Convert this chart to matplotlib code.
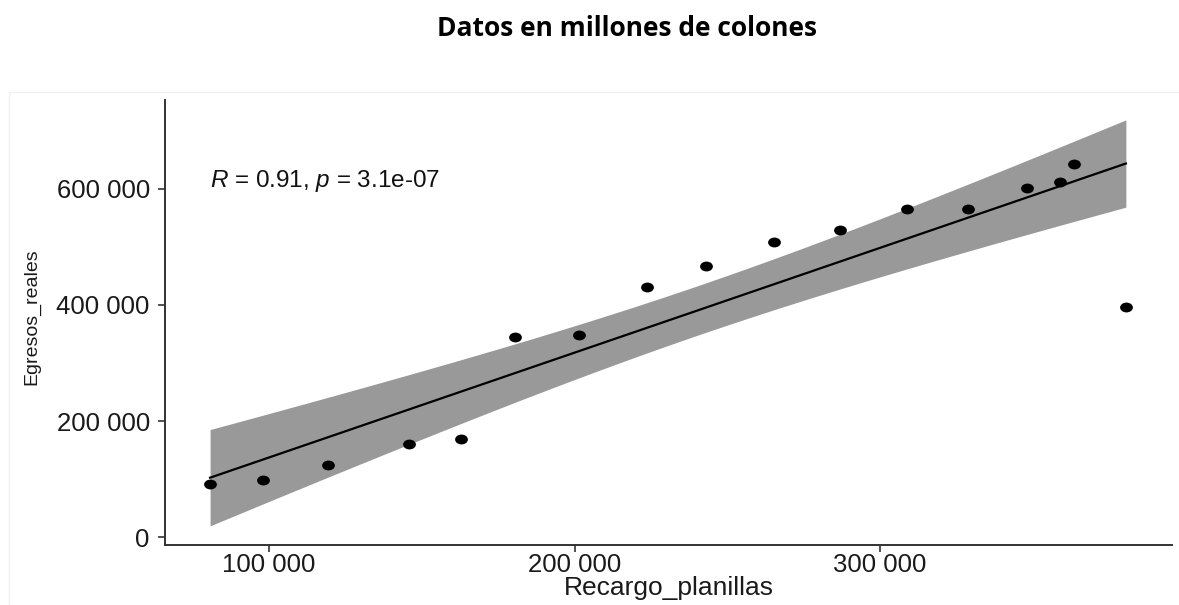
import numpy as np
import matplotlib
matplotlib.use("Agg")
import matplotlib.pyplot as plt
from matplotlib.path import Path
from matplotlib.transforms import Affine2D
from matplotlib.patches import Rectangle

plt.rcParams['font.family'] = ['Liberation Sans', 'DejaVu Sans']
plt.rcParams['mathtext.fontset'] = 'custom'
plt.rcParams['mathtext.it'] = 'Liberation Sans:italic'
plt.rcParams['mathtext.rm'] = 'Liberation Sans'

# ---- data ----
recargo_planillas = [80700, 97900, 119400, 145700, 162800, 180600, 201500,
                     223800, 243200, 265300, 286900, 308900, 328700,
                     348000, 358900, 363500, 380500]
egresos_reales = [90900, 98300, 123600, 160900, 169000, 344800, 348800,
                  431000, 467800, 509200, 529300, 565000, 565000,
                  602200, 612600, 643600, 397000]
x_ticks = [100000, 200000, 300000]
x_tick_labels = ["100 000", "200 000", "300 000"]
y_ticks = [0, 200000, 400000, 600000]
y_tick_labels = ["0", "200 000", "400 000", "600 000"]
title = "Datos en millones de colones"
x_label = "Recargo_planillas"
y_label = "Egresos_reales"
annotation = "$R$ = 0.91, $p$ = 3.1e-07"
t_crit = 2.131  # t(0.975, df=15)

x = np.array(recargo_planillas, dtype=float)
y = np.array(egresos_reales, dtype=float)

# linear fit with 95% confidence band (as geom_smooth(method='lm'))
slope, intercept = np.polyfit(x, y, 1)
n = len(x)
resid = y - (slope * x + intercept)
s = np.sqrt(np.sum(resid ** 2) / (n - 2))
xs = np.linspace(x.min(), x.max(), 200)
ys = slope * xs + intercept
se = s * np.sqrt(1.0 / n + (xs - x.mean()) ** 2 / np.sum((x - x.mean()) ** 2))

fig = plt.figure(figsize=(11.79, 6.05), dpi=100)
ax = fig.add_axes([0.140, 0.099, 0.854, 0.736])

ax.fill_between(xs, ys - t_crit * se, ys + t_crit * se, color="#999999",
                linewidth=0, zorder=1)
ax.plot(xs, ys, color="black", linewidth=1.6, zorder=2)

ellipse = Path.unit_circle().transformed(Affine2D().scale(1.3, 1.0))
ax.scatter(x, y, marker=ellipse, s=85, color="black", linewidths=0, zorder=3)

ax.text(x.min(), 613800, annotation, fontsize=17.5, va="center", ha="left",
        color="#111111")

ax.set_xlim(65960, 395580)
ax.set_ylim(-13800, 753400)
ax.set_xticks(x_ticks)
ax.set_xticklabels(x_tick_labels)
ax.set_yticks(y_ticks)
ax.set_yticklabels(y_tick_labels)
ax.tick_params(axis="both", labelsize=18.5, colors="#333333",
               labelcolor="#1a1a1a", length=5, width=1.2)
ax.tick_params(axis="y", pad=6)
ax.tick_params(axis="x", pad=1)
for side in ("top", "right"):
    ax.spines[side].set_visible(False)
for side in ("left", "bottom"):
    ax.spines[side].set_color("#333333")
    ax.spines[side].set_linewidth(1.4)

ax.set_xlabel(x_label, fontsize=19, color="#1a1a1a", labelpad=-1)
ax.set_ylabel(y_label, fontsize=14, color="#1a1a1a")
ax.yaxis.set_label_coords(-0.124, 0.514)

fig.text(0.532, 0.953, title, fontsize=19, fontweight="bold",
         family=["Open Sans", "DejaVu Sans"], ha="center", va="center")

# faint frame of the embedded chart
fig.patches.append(Rectangle((9 / 1179, -0.01), 1.0, 1 - 92 / 605 + 0.01,
                             transform=fig.transFigure, fill=False,
                             edgecolor="#f0f0f0", linewidth=1.0))

fig.savefig("out.png", dpi=100)
